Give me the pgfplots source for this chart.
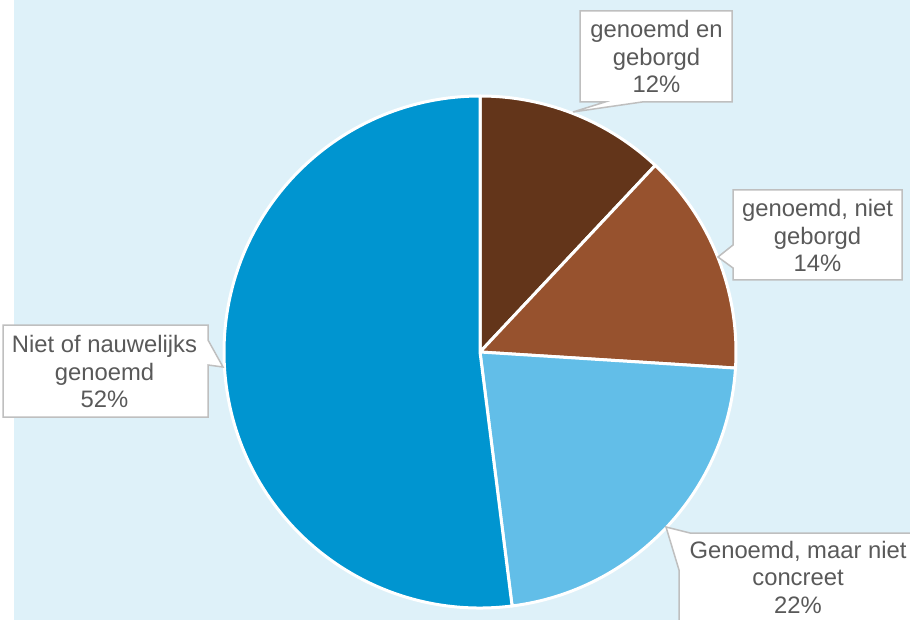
\documentclass[border=0pt]{standalone}
\usepackage{pgfplots}
\pgfplotsset{compat=1.18}
\usepackage{pgfplotstable}
\usepackage{fontspec}
\setmainfont{Liberation Sans}
\definecolor{bg}{RGB}{222,241,249}
\definecolor{c1}{RGB}{99,53,26}
\definecolor{c2}{RGB}{151,82,46}
\definecolor{c3}{RGB}{98,190,232}
\definecolor{c4}{RGB}{0,149,208}
\definecolor{txt}{RGB}{89,89,89}
\definecolor{bord}{RGB}{191,191,191}

\pgfplotstableread{
value
12
14
22
52
}\piedata

\begin{document}
\begin{tikzpicture}
\pgfplotstablegetelem{0}{value}\of\piedata \let\vA\pgfplotsretval
\pgfplotstablegetelem{1}{value}\of\piedata \let\vB\pgfplotsretval
\pgfplotstablegetelem{2}{value}\of\piedata \let\vC\pgfplotsretval
\pgfplotstablegetelem{3}{value}\of\piedata \let\vD\pgfplotsretval
\pgfmathsetmacro{\aA}{90}
\pgfmathsetmacro{\aB}{\aA-3.6*\vA}
\pgfmathsetmacro{\aC}{\aB-3.6*\vB}
\pgfmathsetmacro{\aD}{\aC-3.6*\vC}
\pgfmathsetmacro{\aE}{\aD-3.6*\vD}
\begin{axis}[width=910pt,height=620pt,scale only axis,
  xmin=0,xmax=910,ymin=0,ymax=620,y dir=reverse,hide axis,clip=false]
\fill[white] (axis cs:0,0) rectangle (axis cs:910,620);
\fill[bg] (axis cs:14,0) rectangle (axis cs:910,620);
\coordinate (BL) at (axis cs:0,620);
\coordinate (TR) at (axis cs:910,0);
% pie wedges
\filldraw[fill=c1,draw=white,line width=3pt,line join=round] (axis cs:480,352) -- ++(\aA:256pt) arc[start angle=\aA,end angle=\aB,radius=256pt] -- cycle;
\filldraw[fill=c2,draw=white,line width=3pt,line join=round] (axis cs:480,352) -- ++(\aB:256pt) arc[start angle=\aB,end angle=\aC,radius=256pt] -- cycle;
\filldraw[fill=c3,draw=white,line width=3pt,line join=round] (axis cs:480,352) -- ++(\aC:256pt) arc[start angle=\aC,end angle=\aD,radius=256pt] -- cycle;
\filldraw[fill=c4,draw=white,line width=3pt,line join=round] (axis cs:480,352) -- ++(\aD:256pt) arc[start angle=\aD,end angle=\aE,radius=256pt] -- cycle;
% callouts
\filldraw[fill=white,draw=bord,line width=1.5pt] (axis cs:580,11) -- (axis cs:732,11) -- (axis cs:732,102) -- (axis cs:642,102) -- (axis cs:573,112) -- (axis cs:605,102) -- (axis cs:580,102) -- cycle;
\filldraw[fill=white,draw=bord,line width=1.5pt] (axis cs:733,190) -- (axis cs:902,190) -- (axis cs:902,280) -- (axis cs:733,280) -- (axis cs:733,268) -- (axis cs:718,257) -- (axis cs:733,245) -- cycle;
\fill[white] (axis cs:910,533) -- (axis cs:690,533) -- (axis cs:666,527) -- (axis cs:679,570) -- (axis cs:679,620) -- (axis cs:910,620) -- cycle;
\draw[bord,line width=1.5pt] (axis cs:910,533) -- (axis cs:690,533) -- (axis cs:666,527) -- (axis cs:679,570) -- (axis cs:679,620);
\filldraw[fill=white,draw=bord,line width=1.5pt] (axis cs:3,325) -- (axis cs:208,325) -- (axis cs:208,340) -- (axis cs:223,367) -- (axis cs:208,365) -- (axis cs:208,417) -- (axis cs:3,417) -- cycle;
% labels
\tikzset{lab/.style={anchor=base,inner sep=0pt,text=txt,font=\fontsize{23.8}{28}\selectfont}}
\node[lab] at (axis cs:656.5,38) {genoemd en};
\node[lab] at (axis cs:656.5,65.5) {geborgd};
\node[lab] at (axis cs:656.5,93) {12\%};
\node[lab] at (axis cs:817.5,216.7) {genoemd, niet};
\node[lab] at (axis cs:817.5,244.2) {geborgd};
\node[lab] at (axis cs:817.5,271.7) {14\%};
\node[lab] at (axis cs:798,558) {Genoemd, maar niet};
\node[lab] at (axis cs:798,585.5) {concreet};
\node[lab] at (axis cs:798,613) {22\%};
\node[lab] at (axis cs:104.5,352.7) {Niet of nauwelijks};
\node[lab] at (axis cs:104.5,380.2) {genoemd};
\node[lab] at (axis cs:104.5,407.7) {52\%};
\end{axis}
\pgfresetboundingbox
\path[use as bounding box] (BL) rectangle (TR);
\end{tikzpicture}
\end{document}
